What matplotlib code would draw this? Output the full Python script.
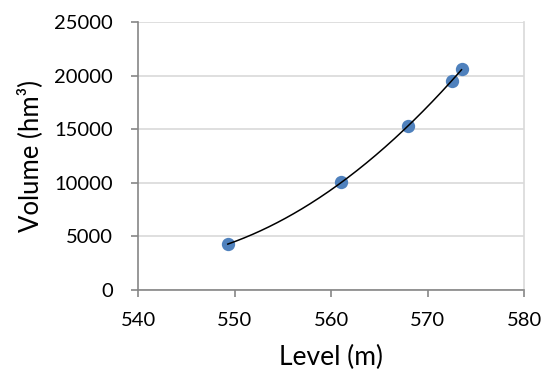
import numpy as np
import matplotlib
matplotlib.use("Agg")
import matplotlib.pyplot as plt

plt.rcParams['font.family'] = ['Lato', 'DejaVu Sans']

level = [549.3, 561.0, 568.0, 572.5, 573.5]
volume = [4280, 10050, 15300, 19550, 20600]
x_ticks = [540, 550, 560, 570, 580]
y_ticks = [0, 5000, 10000, 15000, 20000, 25000]

fig = plt.figure(figsize=(5.51, 3.73), dpi=100)
ax = fig.add_axes([0.2505, 0.2225, 0.9515 - 0.2505, 0.9402 - 0.2225])

# quadratic trendline fitted to the points
coef = np.polyfit(level, volume, 2)
xs = np.linspace(min(level), max(level), 200)
ax.scatter(level, volume, s=92, color='#4F81BD', zorder=3, linewidths=0)
ax.plot(xs, np.polyval(coef, xs), color='black', lw=1.1, zorder=4)

ax.set_xlim(540, 580)
ax.set_ylim(0, 25000)
ax.set_xticks(x_ticks)
ax.set_yticks(y_ticks)
ax.grid(axis='y', color='#D9D9D9', lw=1.2)
ax.set_axisbelow(True)
ax.spines['top'].set_visible(False)
ax.spines['right'].set_color('#D9D9D9')
ax.spines['right'].set_linewidth(1.2)
ax.spines['left'].set_color('#868686')
ax.spines['bottom'].set_color('#868686')
ax.spines['left'].set_linewidth(1.2)
ax.spines['bottom'].set_linewidth(1.2)
ax.tick_params(axis='both', direction='out', length=5, color='#868686',
               labelsize=14.5, width=1.2)
ax.tick_params(axis='x', pad=11)
ax.tick_params(axis='y', pad=13)
ax.set_xlabel('Level (m)', fontsize=19)
ax.set_ylabel('Volume (hm³)', fontsize=18.5)
ax.xaxis.set_label_coords(0.5, -0.205, transform=ax.transAxes)
ax.yaxis.set_label_coords(-0.28, 0.5, transform=ax.transAxes)
ax.xaxis.label.set_va('top')
ax.yaxis.label.set_va('center')

fig.savefig('out.png', dpi=100)
